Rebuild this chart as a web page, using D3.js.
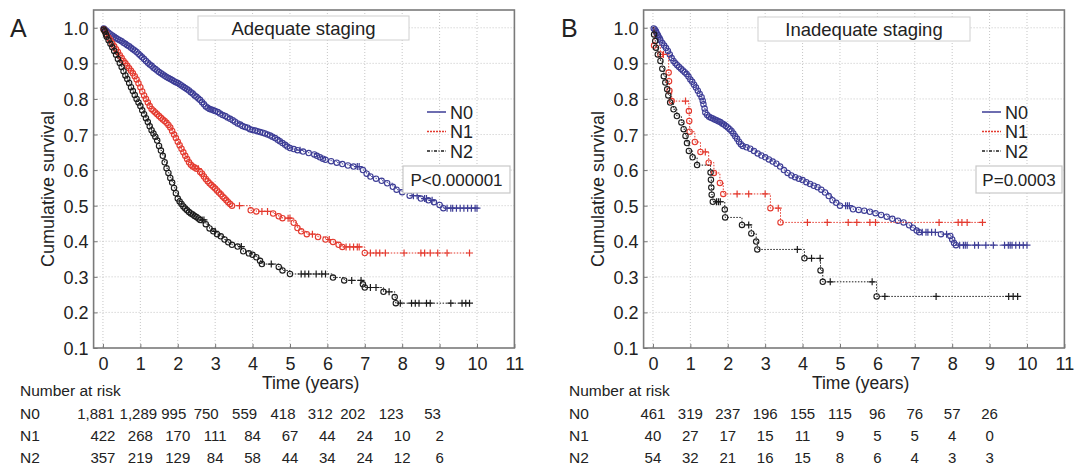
<!DOCTYPE html>
<html><head><meta charset="utf-8">
<script src="https://cdn.jsdelivr.net/npm/d3@7"></script>
<style>
body{margin:0;background:#fff;}
svg{display:block;}
text{font-family:"Liberation Sans",Arial,Helvetica,sans-serif;fill:#222;}
</style>
</head><body>
<svg id="chart" width="1078" height="467"></svg>
<script>
// ---------------- data ----------------
const xTicks = [0,1,2,3,4,5,6,7,8,9,10,11];
const yTicks = [0.1,0.2,0.3,0.4,0.5,0.6,0.7,0.8,0.9,1.0];
const groups = ["N0","N1","N2"];
const riskTimes = [0,1,2,3,4,5,6,7,8,9];
const panelLetters = ["A","B"];
const panelTitles = ["Adequate staging","Inadequate staging"];
const pValues = ["P<0.000001","P=0.0003"];
const xLabel = "Time (years)";
const yLabel = "Cumulative survival";
const riskLabel = "Number at risk";

// Number at risk
const riskA_N0 = [1881,1289,995,750,559,418,312,202,123,53];
const riskA_N1 = [422,268,170,111,84,67,44,24,10,2];
const riskA_N2 = [357,219,129,84,58,44,34,24,12,6];
const riskB_N0 = [461,319,237,196,155,115,96,76,57,26];
const riskB_N1 = [40,27,17,15,11,9,5,5,4,0];
const riskB_N2 = [54,32,21,16,15,8,6,4,3,3];

// Panel A, events [time, survival after event]
const eventsA_N0 = [[0.02,0.998],[0.05,0.995],[0.08,0.992],[0.1,0.99],[0.15,0.986],[0.2,0.982],[0.25,0.978],[0.3,0.975],[0.35,0.971],[0.4,0.968],
 [0.45,0.965],[0.5,0.962],[0.55,0.958],[0.6,0.955],[0.65,0.951],[0.7,0.948],[0.75,0.944],[0.8,0.94],[0.85,0.936],[0.9,0.932],
 [0.95,0.927],[1.0,0.922],[1.05,0.917],[1.1,0.912],[1.15,0.907],[1.2,0.902],[1.25,0.897],[1.3,0.893],[1.35,0.888],[1.4,0.884],
 [1.45,0.88],[1.5,0.876],[1.55,0.872],[1.6,0.869],[1.65,0.865],[1.7,0.862],[1.75,0.859],[1.8,0.856],[1.85,0.853],[1.9,0.85],
 [1.95,0.847],[2.0,0.845],[2.05,0.841],[2.1,0.838],[2.15,0.834],[2.2,0.831],[2.25,0.827],[2.3,0.824],[2.35,0.819],[2.4,0.815],
 [2.45,0.81],[2.5,0.806],[2.55,0.801],[2.6,0.797],[2.65,0.791],[2.7,0.785],[2.75,0.779],[2.8,0.775],[2.85,0.772],[2.9,0.77],
 [2.95,0.768],[3.0,0.766],[3.07,0.763],[3.13,0.759],[3.2,0.755],[3.27,0.752],[3.33,0.748],[3.4,0.744],[3.47,0.74],[3.53,0.736],
 [3.6,0.731],[3.67,0.728],[3.73,0.724],[3.8,0.721],[3.87,0.719],[3.93,0.715],[4.0,0.713],[4.07,0.711],[4.13,0.709],[4.2,0.707],
 [4.27,0.705],[4.33,0.703],[4.4,0.7],[4.47,0.697],[4.53,0.694],[4.6,0.69],[4.67,0.685],[4.73,0.681],[4.8,0.676],[4.87,0.671],
 [4.93,0.666],[5.0,0.662],[5.1,0.659],[5.2,0.656],[5.35,0.652],[5.5,0.648],[5.65,0.644],[5.72,0.64],[5.8,0.636],[5.88,0.632],
 [5.95,0.629],[6.1,0.625],[6.25,0.621],[6.4,0.617],[6.55,0.613],[6.7,0.61],[6.95,0.6],[7.05,0.59],[7.15,0.582],[7.3,0.576],
 [7.45,0.57],[7.6,0.563],[7.75,0.553],[7.85,0.545],[8.0,0.538],[8.2,0.528],[8.5,0.52],[8.7,0.515],[8.85,0.51],[9.0,0.502],[9.1,0.493]];
const censorA_N0 = [5.27,6.8,6.85,8.3,8.4,8.6,8.65,8.8,9.2,9.3,9.35,9.45,9.55,9.65,9.75,9.85,9.95,10.0];

const eventsA_N1 = [[0.02,0.995],[0.05,0.99],[0.08,0.984],[0.1,0.98],[0.15,0.972],[0.2,0.965],[0.25,0.956],[0.3,0.948],[0.35,0.94],[0.4,0.932],
 [0.45,0.923],[0.5,0.915],[0.55,0.907],[0.6,0.9],[0.65,0.893],[0.7,0.886],[0.75,0.879],[0.8,0.872],[0.85,0.864],[0.9,0.855],
 [0.95,0.844],[1.0,0.833],[1.05,0.821],[1.1,0.81],[1.15,0.8],[1.2,0.79],[1.25,0.78],[1.3,0.772],[1.35,0.767],[1.4,0.762],
 [1.45,0.757],[1.5,0.752],[1.55,0.747],[1.6,0.742],[1.65,0.738],[1.7,0.733],[1.75,0.727],[1.8,0.72],[1.85,0.71],[1.9,0.7],
 [1.95,0.69],[2.0,0.68],[2.05,0.67],[2.1,0.66],[2.15,0.65],[2.2,0.64],[2.25,0.631],[2.3,0.622],[2.35,0.615],[2.4,0.61],
 [2.45,0.607],[2.5,0.604],[2.6,0.595],[2.65,0.59],[2.7,0.582],[2.75,0.575],[2.8,0.569],[2.85,0.563],[2.9,0.558],[2.95,0.553],
 [3.0,0.548],[3.05,0.543],[3.1,0.537],[3.15,0.532],[3.2,0.526],[3.25,0.521],[3.3,0.515],[3.35,0.51],[3.4,0.505],[3.45,0.5],
 [3.95,0.487],[4.1,0.484],[4.55,0.478],[4.7,0.47],[4.8,0.465],[5.1,0.452],[5.2,0.437],[5.3,0.428],[5.45,0.42],[5.75,0.412],
 [5.95,0.405],[6.15,0.398],[6.3,0.39],[6.4,0.384],[7.0,0.367]];
const censorA_N1 = [2.55,3.65,4.25,4.4,4.95,5.0,5.6,6.05,6.5,6.6,6.7,6.8,6.85,7.15,7.3,7.4,7.55,8.05,8.5,8.6,8.75,8.95,9.2,9.8];

const eventsA_N2 = [[0.02,0.995],[0.05,0.99],[0.08,0.981],[0.1,0.975],[0.15,0.965],[0.2,0.955],[0.25,0.945],[0.3,0.935],[0.35,0.924],[0.4,0.912],
 [0.45,0.901],[0.5,0.89],[0.55,0.878],[0.6,0.866],[0.65,0.856],[0.7,0.845],[0.75,0.833],[0.8,0.822],[0.85,0.811],[0.9,0.8],
 [0.95,0.79],[1.0,0.78],[1.05,0.768],[1.1,0.757],[1.15,0.746],[1.2,0.735],[1.25,0.723],[1.3,0.712],[1.35,0.703],[1.4,0.694],
 [1.45,0.683],[1.5,0.668],[1.55,0.655],[1.6,0.64],[1.65,0.622],[1.7,0.605],[1.75,0.592],[1.8,0.578],[1.85,0.565],[1.9,0.55],
 [1.95,0.535],[2.0,0.52],[2.05,0.512],[2.1,0.505],[2.15,0.498],[2.2,0.492],[2.25,0.487],[2.3,0.482],[2.35,0.478],[2.4,0.475],
 [2.45,0.471],[2.5,0.468],[2.55,0.464],[2.6,0.46],[2.75,0.448],[2.85,0.436],[2.95,0.428],[3.05,0.42],[3.15,0.414],[3.25,0.405],
 [3.35,0.397],[3.45,0.39],[3.6,0.385],[3.75,0.372],[3.9,0.366],[4.0,0.362],[4.1,0.355],[4.2,0.345],[4.25,0.336],[4.7,0.328],
 [4.8,0.318],[5.0,0.308],[6.15,0.298],[6.45,0.29],[6.95,0.279],[7.0,0.27],[7.5,0.258],[7.8,0.243],[7.83,0.226]];
const censorA_N2 = [2.65,2.7,3.0,3.7,4.5,5.3,5.4,5.5,5.7,5.85,5.95,6.65,6.9,7.15,7.3,7.65,7.95,8.25,8.35,8.45,8.65,8.75,9.3,9.6,9.7,9.8];

// Panel B
const eventsB_N0 = [[0.02,0.998],[0.05,0.995],[0.08,0.99],[0.1,0.985],[0.13,0.98],[0.15,0.975],[0.18,0.97],[0.2,0.965],[0.25,0.957],[0.3,0.95],
 [0.35,0.943],[0.4,0.935],[0.45,0.925],[0.5,0.915],[0.55,0.907],[0.6,0.9],[0.65,0.895],[0.7,0.89],[0.75,0.885],[0.8,0.88],
 [0.85,0.875],[0.9,0.87],[0.95,0.863],[1.0,0.855],[1.05,0.848],[1.1,0.84],[1.15,0.832],[1.2,0.823],[1.25,0.814],[1.3,0.805],
 [1.33,0.795],[1.35,0.785],[1.38,0.773],[1.4,0.762],[1.45,0.755],[1.5,0.75],[1.55,0.747],[1.6,0.745],[1.65,0.742],[1.7,0.74],
 [1.75,0.737],[1.8,0.735],[1.85,0.731],[1.9,0.728],[1.95,0.724],[2.0,0.72],[2.05,0.715],[2.1,0.71],[2.15,0.703],[2.2,0.695],
 [2.25,0.688],[2.3,0.68],[2.35,0.673],[2.4,0.668],[2.5,0.664],[2.6,0.66],[2.7,0.654],[2.8,0.647],[2.9,0.641],[3.0,0.636],
 [3.1,0.63],[3.2,0.624],[3.3,0.618],[3.4,0.61],[3.5,0.6],[3.6,0.592],[3.7,0.585],[3.8,0.58],[3.9,0.576],[4.0,0.572],
 [4.1,0.566],[4.2,0.561],[4.3,0.556],[4.4,0.552],[4.5,0.545],[4.6,0.537],[4.7,0.527],[4.8,0.515],[4.9,0.508],[5.0,0.5],
 [5.35,0.49],[5.5,0.488],[5.65,0.486],[5.8,0.483],[5.95,0.479],[6.1,0.474],[6.25,0.469],[6.4,0.463],[6.55,0.458],[6.7,0.453],
 [6.85,0.445],[6.95,0.438],[7.05,0.43],[7.12,0.425],[7.7,0.42],[7.95,0.415],[8.0,0.405],[8.05,0.395],[8.1,0.389]];
const censorB_N0 = [5.15,5.2,5.25,7.2,7.3,7.35,7.45,7.55,7.85,8.2,8.3,8.35,8.4,8.6,8.7,8.9,9.1,9.4,9.5,9.55,9.6,9.7,9.8,9.9,10.0];

const eventsB_N1 = [[0.03,0.95],[0.2,0.925],[0.42,0.874],[0.43,0.85],[0.44,0.823],[0.5,0.794],[0.96,0.766],[0.97,0.738],[0.98,0.708],[1.12,0.679],
 [1.27,0.651],[1.49,0.621],[1.63,0.592],[1.79,0.564],[1.88,0.533],[3.14,0.493],[3.41,0.453]];
const censorB_N1 = [0.28,0.87,1.4,2.25,2.56,3.0,3.35,4.13,4.66,5.22,5.45,5.8,5.95,7.65,8.16,8.26,8.4,8.81];

const eventsB_N2 = [[0.03,0.981],[0.06,0.963],[0.08,0.944],[0.13,0.925],[0.2,0.907],[0.25,0.885],[0.29,0.864],[0.33,0.846],[0.38,0.827],[0.41,0.81],
 [0.46,0.79],[0.55,0.771],[0.64,0.752],[0.76,0.734],[0.82,0.715],[0.87,0.696],[0.91,0.676],[0.96,0.654],[1.06,0.636],[1.18,0.614],
 [1.54,0.593],[1.55,0.573],[1.56,0.551],[1.57,0.531],[1.6,0.511],[1.92,0.489],[1.93,0.467],[2.38,0.446],[2.63,0.422],[2.76,0.399],
 [2.79,0.377],[4.05,0.352],[4.48,0.318],[4.54,0.286],[5.98,0.245]];
const censorB_N2 = [1.7,1.75,1.8,2.56,3.86,4.24,4.47,4.74,5.86,6.2,7.57,9.51,9.63,9.75];

// ---------------- layout / style ----------------
const colors = {N0:"#3d3d96", N1:"#e43a2f", N2:"#1c1c1c"};
const legendDash = {N0:null, N1:"2,1", N2:"3,1.5,1,1.5"};
const riskOffsetA_N0 = [-7,-2,-4,-9,-8,-7,-7,-12,-11,-7];
const zeros = [0,0,0,0,0,0,0,0,0,0];
const svg = d3.select("#chart");

const panels = [
  {letter:panelLetters[0], title:panelTitles[0], p:pValues[0], left:93.6, right:514.4, letterX:10, titleBox:[198,16,211,24], legendX:427, pBox:[403,166,107,27],
   curves:{N0:[eventsA_N0,censorA_N0],N1:[eventsA_N1,censorA_N1],N2:[eventsA_N2,censorA_N2]},
   risk:{N0:riskA_N0,N1:riskA_N1,N2:riskA_N2}, riskLabelX:20, riskShift:{N0:riskOffsetA_N0,N1:zeros,N2:zeros}},
  {letter:panelLetters[1], title:panelTitles[1], p:pValues[1], left:643.6, right:1064.4, letterX:561, titleBox:[758,17,212,24], legendX:982, pBox:[976,166,86,27],
   curves:{N0:[eventsB_N0,censorB_N0],N1:[eventsB_N1,censorB_N1],N2:[eventsB_N2,censorB_N2]},
   risk:{N0:riskB_N0,N1:riskB_N1,N2:riskB_N2}, riskLabelX:569, riskShift:{N0:zeros,N1:zeros,N2:zeros}}
];

const plotTop = 10, plotBottom = 348;
const fmt = d3.format(",");

panels.forEach(P => {
  const x = d3.scaleLinear().domain([-0.25, 11]).range([P.left, P.right]);
  const y = d3.scaleLinear().domain([0.1, 1.05]).range([plotBottom, plotTop]);
  const g = svg.append("g");

  // grid
  g.selectAll(".vg").data(xTicks.filter(d => d < 11)).join("line")
    .attr("x1", d => x(d)).attr("x2", d => x(d)).attr("y1", plotTop).attr("y2", plotBottom)
    .attr("stroke", "#b8b8b8").attr("stroke-width", 0.8).attr("stroke-dasharray", "1,2");
  g.selectAll(".hg").data(yTicks.filter(d => d > 0.1)).join("line")
    .attr("x1", P.left).attr("x2", P.right).attr("y1", d => y(d)).attr("y2", d => y(d))
    .attr("stroke", "#b8b8b8").attr("stroke-width", 0.8).attr("stroke-dasharray", "1,2");

  // frame
  g.append("rect").attr("x", P.left).attr("y", plotTop).attr("width", P.right - P.left).attr("height", plotBottom - plotTop)
    .attr("fill", "none").attr("stroke", "#7a7a7a").attr("stroke-width", 1.6);

  // axes
  const yAxis = d3.axisLeft(y).tickValues(yTicks).tickFormat(d3.format(".1f")).tickSize(-4).tickPadding(5);
  const ya = g.append("g").attr("transform", `translate(${P.left},0)`).call(yAxis);
  ya.select(".domain").remove();
  ya.selectAll("line").attr("stroke", "#777");
  ya.selectAll("text").style("font-size", "18px").attr("fill", "#222").attr("dy", "0.36em");

  const xAxis = d3.axisBottom(x).tickValues(xTicks).tickFormat(d3.format("d")).tickSize(-4).tickPadding(9);
  const xa = g.append("g").attr("transform", `translate(0,${plotBottom})`).call(xAxis);
  xa.select(".domain").remove();
  xa.selectAll("line").attr("stroke", "#777");
  xa.selectAll("text").style("font-size", "18px").attr("fill", "#222");

  // axis titles
  g.append("text").attr("x", x(5.5) + 2).attr("y", 389).attr("text-anchor", "middle")
    .style("font-size", "17.5px").text(xLabel);
  g.append("text").attr("transform", `translate(${P.left - 40},${(plotTop + plotBottom) / 2 + 10}) rotate(-90)`)
    .attr("text-anchor", "middle").style("font-size", "18px").text(yLabel);

  // panel letter
  g.append("text").attr("x", P.letterX).attr("y", 37).style("font-size", "25px").text(P.letter);

  // curves
  groups.forEach(k => {
    const [ev, cens] = P.curves[k];
    const sAt = t => { let s = 1; ev.forEach(e => { if (e[0] <= t) s = e[1]; }); return s; };
    const lastT = Math.max(ev[ev.length - 1][0], d3.max(cens));
    const pts = [[0, 1]].concat(ev).concat([[lastT, sAt(lastT)]]);
    const line = d3.line().x(d => x(d[0])).y(d => y(d[1])).curve(d3.curveStepAfter);
    g.append("path").attr("d", line(pts)).attr("fill", "none").attr("stroke", colors[k])
      .attr("stroke-width", 1).attr("stroke-dasharray", "1.5,1.5");
    g.selectAll(null).data(ev).join("circle")
      .attr("cx", d => x(d[0])).attr("cy", d => y(d[1])).attr("r", 2.7)
      .attr("fill", "none").attr("stroke", colors[k]).attr("stroke-width", 1.1);
    const cp = cens.map(t => [t, sAt(t)]);
    g.selectAll(null).data(cp).join("path")
      .attr("d", d => { const cx = x(d[0]), cy = y(d[1]); return `M${cx-3.5},${cy}H${cx+3.5}M${cx},${cy-3.5}V${cy+3.5}`; })
      .attr("stroke", colors[k]).attr("stroke-width", 1.2).attr("fill", "none");
  });

  // title box
  const [tx, ty, tw, th] = P.titleBox;
  g.append("rect").attr("x", tx).attr("y", ty).attr("width", tw).attr("height", th)
    .attr("fill", "#fff").attr("stroke", "#d0d0d0").attr("stroke-width", 1);
  g.append("text").attr("x", tx + tw / 2).attr("y", ty + th / 2 + 6.5).attr("text-anchor", "middle")
    .style("font-size", "18.5px").text(P.title);

  // legend
  groups.forEach((k, i) => {
    const ly = 112 + i * 19.5;
    g.append("line").attr("x1", P.legendX).attr("x2", P.legendX + 19).attr("y1", ly).attr("y2", ly)
      .attr("stroke", colors[k]).attr("stroke-width", 1.5).attr("stroke-dasharray", legendDash[k]);
    g.append("text").attr("x", P.legendX + 23).attr("y", ly + 6.5).style("font-size", "18px").text(k);
  });

  // p-value box
  const [px, py, pw, ph] = P.pBox;
  g.append("rect").attr("x", px).attr("y", py).attr("width", pw).attr("height", ph)
    .attr("fill", "#fff").attr("stroke", "#c8c8c8").attr("stroke-width", 1.2);
  g.append("text").attr("x", px + pw / 2).attr("y", py + ph / 2 + 6).attr("text-anchor", "middle")
    .style("font-size", "17px").text(P.p);

  // number at risk
  g.append("text").attr("x", P.riskLabelX).attr("y", 396).style("font-size", "15.5px").text(riskLabel);
  groups.forEach((k, i) => {
    const ry = 419 + i * 22;
    g.append("text").attr("x", P.riskLabelX).attr("y", ry).style("font-size", "15.5px").text(k);
    g.selectAll(null).data(P.risk[k]).join("text")
      .attr("x", (d, j) => x(riskTimes[j]) + P.riskShift[k][j]).attr("y", ry).attr("text-anchor", "middle")
      .style("font-size", "15px").text(d => fmt(d));
  });
});
</script>
</body></html>
